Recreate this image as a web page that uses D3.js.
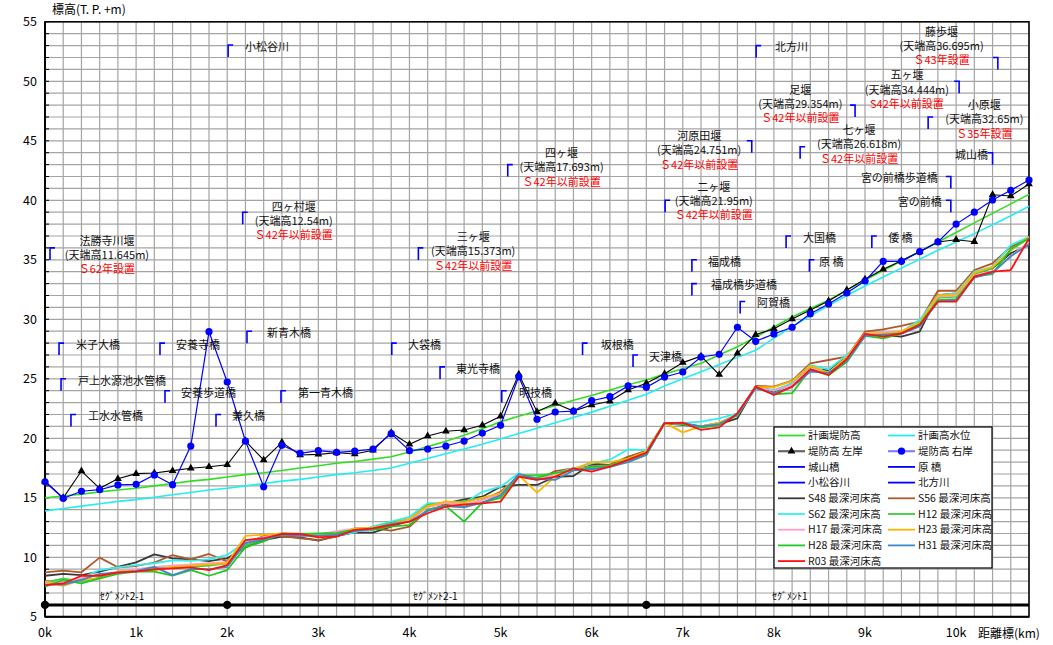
<!DOCTYPE html>
<html><head><meta charset="utf-8">
<script src="https://cdn.jsdelivr.net/npm/d3@7"></script>
<style>
html,body{margin:0;padding:0;background:#fff;}
text{font-family:"Noto Sans CJK JP","Noto Sans",sans-serif;}
</style></head>
<body><svg id="chart" width="1053" height="645"></svg>
<script>
// ---- data ----
const distKm = [0,0.2,0.4,0.6,0.8,1.0,1.2,1.4,1.6,1.8,2.0,2.2,2.4,2.6,2.8,3.0,3.2,3.4,3.6,3.8,4.0,4.2,4.4,4.6,4.8,5.0,5.2,5.4,5.6,5.8,6.0,6.2,6.4,6.6,6.8,7.0,7.2,7.4,7.6,7.8,8.0,8.2,8.4,8.6,8.8,9.0,9.2,9.4,9.6,9.8,10.0,10.2,10.4,10.6,10.8];

const planLevee = [15.0,15.15,15.3,15.5,15.65,15.8,16.0,16.2,16.4,16.55,16.75,16.95,17.1,17.3,17.5,17.7,17.9,18.05,18.25,18.45,18.85,19.3,19.75,20.25,20.8,21.4,21.85,22.3,22.75,23.2,23.6,24.05,24.5,24.9,25.4,25.85,26.3,27.0,27.7,28.5,29.35,30.2,30.9,31.6,32.45,33.3,34.1,34.9,35.7,36.5,37.3,38.1,38.9,39.7,40.5];
const planHWL = [13.9,14.1,14.3,14.5,14.7,14.85,15.05,15.25,15.45,15.65,15.8,16.0,16.2,16.4,16.55,16.75,16.95,17.1,17.3,17.5,17.9,18.3,18.7,19.1,19.5,19.94,20.4,20.85,21.3,21.75,22.2,22.7,23.2,23.7,24.4,25.0,25.6,26.2,26.8,27.4,28.4,29.4,30.3,31.15,32.0,32.8,33.55,34.3,35.05,35.8,36.5,37.2,37.95,38.7,39.5];
const leveeLeft = [16.4,15.0,17.25,15.8,16.6,17.03,17.08,17.28,17.48,17.61,17.78,19.77,18.18,19.66,18.6,18.65,18.79,18.68,19.0,20.47,19.49,20.19,20.59,20.7,21.09,21.85,25.38,22.24,22.94,22.29,22.8,23.11,24.06,24.62,25.43,26.36,26.9,25.35,27.14,28.71,29.21,30.03,30.78,31.54,32.46,33.36,34.2,34.93,35.68,36.5,36.69,36.52,40.47,40.36,41.37];
const leveeRight = [16.35,14.96,15.55,15.68,16.08,16.13,16.92,16.1,19.35,28.96,24.73,19.77,15.93,19.41,18.74,18.96,18.82,18.93,19.1,20.39,18.96,19.1,19.35,19.77,20.44,21.09,25.18,21.6,22.21,22.29,23.16,23.5,24.4,24.28,25.15,25.57,26.83,27.06,29.33,28.15,28.77,29.33,30.47,31.29,32.21,33.22,34.87,34.87,35.68,36.5,38.0,39.0,40.03,40.84,41.7];

const bedS48 = [8.45,8.6,8.5,8.8,9.2,9.57,10.25,9.91,9.82,9.68,9.91,10.84,11.45,11.73,11.68,11.4,11.79,12.1,12.07,12.57,13.13,14.31,14.54,14.87,15.09,15.93,16.08,16.08,16.77,16.83,17.84,17.76,18.45,18.87,21.26,21.12,21.0,21.2,21.68,24.34,23.92,24.62,25.8,25.74,26.86,28.68,28.68,28.54,28.96,32.04,32.18,33.86,34.29,35.55,36.24];
const bedS56 = [8.74,8.88,8.74,9.97,9.16,9.27,9.55,10.19,9.83,10.28,9.63,11.17,11.79,11.79,11.6,11.45,11.73,12.43,12.43,12.24,12.57,13.97,14.4,14.3,14.82,15.51,16.83,16.5,17.25,17.48,17.67,17.76,18.45,18.96,21.3,21.2,21.0,21.3,21.96,24.4,24.34,24.84,26.3,26.58,26.86,28.96,29.16,29.44,29.8,32.4,32.4,34.14,34.7,36.1,36.8];
const bedS62 = [7.8,7.75,8.25,8.93,9.16,9.35,9.5,9.74,9.7,9.82,10.2,11.3,11.7,11.9,11.9,11.85,11.85,12.1,12.6,13.0,13.4,14.55,14.55,14.55,15.5,15.93,17.06,16.5,17.06,17.48,17.9,18.2,19.07,19.0,21.26,21.3,21.4,21.68,22.1,24.34,24.06,24.62,26.16,25.8,27.0,28.54,28.8,28.96,29.94,32.0,32.2,34.0,34.4,36.24,36.94];
const bedH12 = [7.9,8.2,8.0,8.3,8.7,8.9,9.1,9.1,9.2,9.3,9.5,11.0,11.5,12.0,11.9,11.9,12.0,12.3,12.5,12.9,13.2,14.4,14.6,14.7,15.0,15.3,16.9,16.9,17.0,17.4,17.5,17.6,18.1,18.6,21.3,21.2,21.0,21.3,21.9,24.3,24.0,24.5,26.0,25.5,26.8,28.7,28.6,28.9,29.7,31.8,31.9,33.8,34.3,35.8,36.9];
const bedH17 = [7.8,7.9,8.3,8.5,8.8,9.0,9.2,9.3,9.4,9.5,9.6,11.2,11.7,12.0,12.0,11.9,12.2,12.4,12.5,12.8,13.1,14.2,14.6,14.4,14.8,15.3,16.9,16.6,17.0,17.4,17.6,17.7,18.2,18.8,21.3,21.2,21.0,21.3,22.0,24.3,24.0,24.5,25.9,25.5,26.8,28.8,28.9,29.0,29.7,31.9,32.0,33.7,34.0,35.3,36.5];
const bedH23 = [8.0,7.6,8.1,8.2,8.8,8.85,8.9,9.2,9.3,9.4,9.5,11.8,11.9,12.0,11.9,11.8,12.0,12.4,12.5,12.8,13.2,14.3,14.7,14.6,15.0,15.4,16.9,15.43,16.8,17.4,18.0,18.0,18.3,18.9,21.3,20.5,21.0,21.3,22.0,24.3,24.3,24.8,26.1,25.5,26.8,28.8,28.8,29.0,29.7,32.0,32.1,33.9,34.4,35.8,36.9];
const bedH28 = [7.53,8.09,7.81,8.23,8.6,8.8,8.8,8.45,8.93,8.45,8.93,10.84,11.34,12.0,11.96,12.0,12.05,12.3,12.3,12.6,12.7,14.0,14.3,13.0,14.6,15.0,16.8,16.7,17.1,17.3,17.6,17.7,18.2,18.7,21.3,21.2,20.9,21.1,22.0,24.3,23.7,23.8,25.8,25.3,26.4,28.6,28.4,28.8,29.6,31.6,31.7,33.6,33.8,35.9,36.8];
const bedH31 = [7.7,7.7,8.1,8.6,8.7,8.85,9.2,8.5,9.0,9.0,9.2,11.2,11.5,11.9,11.8,11.8,11.9,12.2,12.4,12.8,13.0,13.9,14.3,14.2,14.6,15.2,17.0,16.6,16.5,17.3,17.4,17.6,18.0,18.6,21.3,21.3,21.0,21.2,22.0,24.2,23.8,24.3,25.6,25.5,26.5,28.6,28.7,28.8,29.4,31.5,31.6,33.5,33.9,35.3,36.3];
const bedR03 = [7.67,7.8,8.45,8.45,8.74,8.79,8.99,9.07,9.16,8.93,9.35,11.45,11.6,11.96,11.96,11.68,11.75,12.3,12.43,12.71,12.99,13.7,14.25,14.45,14.54,14.67,16.77,16.5,16.77,17.48,17.2,17.61,18.18,18.79,21.26,21.31,20.7,20.92,22.1,24.34,23.64,24.34,25.8,25.32,26.66,28.77,28.54,28.82,29.52,31.48,31.48,33.58,34.0,34.14,36.8];

const bedNames = ["S48","S56","S62","H12","H17","H23","H28","H31","R03"];
const bedColors = ["#3a3a3a","#b0582a","#33f0f0","#3ccc3c","#ff9fcf","#ffb400","#22c822","#3f88c8","#ff1010"];
const bedData = [bedS48,bedS56,bedS62,bedH12,bedH17,bedH23,bedH28,bedH31,bedR03];

const xTicks = [0,1,2,3,4,5,6,7,8,9,10];
const xTickLabels = ["0k","1k","2k","3k","4k","5k","6k","7k","8k","9k","10k"];
const yTicks = [5,10,15,20,25,30,35,40,45,50,55];

const segmentKm = [0,2,6.6];
const segmentLabels = [{t:"ｾｸﾞﾒﾝﾄ2-1",km:0.6},{t:"ｾｸﾞﾒﾝﾄ2-1",km:4.04},{t:"ｾｸﾞﾒﾝﾄ1",km:7.98}];

// single-line markers: bracket at km, top elevation, side R (┌ text right) / L (┐ text left), text anchor km
const markers = [
 {t:"小松谷川",km:2.01,top:53.05,s:"R",tk:2.195},
 {t:"北方川",km:7.805,top:53.0,s:"R",tk:8.013},
 {t:"米子大橋",km:0.154,top:28.0,s:"R",tk:0.34},
 {t:"戸上水源池水管橋",km:0.176,top:25.0,s:"R",tk:0.362},
 {t:"工水水管橋",km:0.285,top:22.0,s:"R",tk:0.472},
 {t:"安養寺橋",km:1.262,top:28.0,s:"R",tk:1.438},
 {t:"安養歩道橋",km:1.317,top:24.0,s:"R",tk:1.493},
 {t:"兼久橋",km:1.877,top:22.0,s:"R",tk:2.053},
 {t:"新青木橋",km:2.217,top:29.0,s:"R",tk:2.437},
 {t:"第一青木橋",km:2.59,top:24.0,s:"R",tk:2.777},
 {t:"大袋橋",km:3.806,top:28.0,s:"R",tk:3.985},
 {t:"東光寺橋",km:4.336,top:26.0,s:"R",tk:4.511},
 {t:"明技橋",km:5.013,top:24.0,s:"R",tk:5.203},
 {t:"坂根橋",km:5.90,top:28.0,s:"R",tk:6.10},
 {t:"天津橋",km:6.454,top:27.0,s:"R",tk:6.63},
 {t:"福成橋",km:7.10,top:35.0,s:"R",tk:7.277},
 {t:"福成橋歩道橋",km:7.10,top:33.0,s:"R",tk:7.31},
 {t:"阿賀橋",km:7.63,top:31.5,s:"R",tk:7.816},
 {t:"大国橋",km:8.134,top:37.0,s:"R",tk:8.32},
 {t:"原\u00a0橋",km:8.39,top:35.0,s:"R",tk:8.496},
 {t:"倭\u00a0橋",km:9.075,top:37.0,s:"R",tk:9.254},
 {t:"城山橋",km:10.40,top:44.0,s:"L",tk:10.351},
 {t:"宮の前橋歩道橋",km:9.942,top:42.0,s:"L",tk:9.80},
 {t:"宮の前橋",km:9.942,top:40.0,s:"L",tk:9.843}
];
// weirs: bracket + three text lines centered at ck, title elevation te
const weirs = [
 {t1:"法勝寺川堰",t2:"(天端高11.645m)",t3:"Ｓ62年設置",km:0.055,top:36.0,s:"R",ck:0.68,te:36.6},
 {t1:"四ヶ村堰",t2:"(天端高12.54m)",t3:"Ｓ42年以前設置",km:2.17,top:39.0,s:"R",ck:2.73,te:39.44},
 {t1:"三ヶ堰",t2:"(天端高15.373m)",t3:"Ｓ42年以前設置",km:4.098,top:36.0,s:"R",ck:4.70,te:36.9},
 {t1:"四ヶ堰",t2:"(天端高17.693m)",t3:"Ｓ42年以前設置",km:5.079,top:43.0,s:"R",ck:5.67,te:43.95},
 {t1:"河原田堰",t2:"(天端高24.751m)",t3:"Ｓ42年以前設置",km:7.757,top:45.0,s:"L",ck:7.18,te:45.38},
 {t1:"二ヶ堰",t2:"(天端高21.95m)",t3:"Ｓ42年以前設置",km:6.806,top:40.0,s:"R",ck:7.34,te:41.12},
 {t1:"足堰",t2:"(天端高29.354m)",t3:"Ｓ42年以前設置",km:8.891,top:48.0,s:"L",ck:8.29,te:49.27},
 {t1:"七ヶ堰",t2:"(天端高26.618m)",t3:"Ｓ42年以前設置",km:8.288,top:44.5,s:"R",ck:8.935,te:45.9},
 {t1:"五ヶ堰",t2:"(天端高34.444m)",t3:"S42年以前設置",km:10.033,top:50.0,s:"L",ck:9.46,te:50.5},
 {t1:"小原堰",t2:"(天端高32.65m)",t3:"Ｓ35年設置",km:9.693,top:47.0,s:"R",ck:10.31,te:47.98},
 {t1:"藤歩堰",t2:"(天端高36.695m)",t3:"Ｓ43年設置",km:10.458,top:52.0,s:"L",ck:9.84,te:54.17}
];

// ---- drawing ----
const svg = d3.select("#chart");
const x = d3.scaleLinear().domain([0,10.8]).range([45,1029]);
const y = d3.scaleLinear().domain([5,55]).range([616.8,21.8]);

// grid
const g = svg.append("g");
g.selectAll(".vg").data(d3.range(0,55)).enter().append("line")
 .attr("x1",i=>x(i*0.2)).attr("x2",i=>x(i*0.2)).attr("y1",y(5)).attr("y2",y(55))
 .attr("stroke","#a4a4a4").attr("stroke-width",1.2);
g.selectAll(".hg").data(d3.range(5,56)).enter().append("line")
 .attr("x1",x(0)).attr("x2",x(10.8)).attr("y1",d=>y(d)).attr("y2",d=>y(d))
 .attr("stroke","#a4a4a4").attr("stroke-width",1.2);

// frame
svg.append("rect").attr("x",x(0)).attr("y",y(55)).attr("width",x(10.8)-x(0)).attr("height",y(5)-y(55))
 .attr("fill","none").attr("stroke","#000").attr("stroke-width",1.5);
svg.append("line").attr("x1",x(0)).attr("x2",x(0)).attr("y1",y(55)).attr("y2",y(5)).attr("stroke","#000").attr("stroke-width",2);
svg.append("line").attr("x1",x(0)).attr("x2",x(10.8)).attr("y1",y(5)).attr("y2",y(5)).attr("stroke","#000").attr("stroke-width",2);
// left inner ticks
svg.selectAll(".lt").data(d3.range(5,56)).enter().append("line")
 .attr("x1",x(0)).attr("x2",x(0)+4).attr("y1",d=>y(d)).attr("y2",d=>y(d)).attr("stroke","#000").attr("stroke-width",1);

// axis labels
svg.selectAll(".yl").data(yTicks).enter().append("text")
 .attr("x",37).attr("y",d=>y(d)).attr("dy","0.35em").attr("text-anchor","end")
 .attr("font-size",12.5).text(d=>d);
svg.selectAll(".xl").data(xTicks).enter().append("text")
 .attr("x",d=>x(d)).attr("y",637).attr("text-anchor","middle").attr("font-size",12.5)
 .text((d,i)=>xTickLabels[i]);
svg.append("text").attr("x",52).attr("y",14).attr("font-size",12).text("標高(T.\u00a0P.\u00a0+m)");
svg.append("text").attr("x",978).attr("y",638).attr("font-size",12).text("距離標(km)");

// segment line
svg.append("line").attr("x1",x(0)).attr("x2",x(10.8)).attr("y1",y(6)).attr("y2",y(6)).attr("stroke","#000").attr("stroke-width",3);
svg.selectAll(".sd").data(segmentKm).enter().append("circle")
 .attr("cx",d=>x(d)).attr("cy",y(6)).attr("r",4.2).attr("fill","#000");
svg.selectAll(".sl").data(segmentLabels).enter().append("text")
 .attr("x",d=>x(d.km)).attr("y",y(6)-5).attr("font-size",10).text(d=>d.t);

// lines
const line = arr => d3.line().x((d,i)=>x(distKm[i])).y(d=>y(d))(arr);

bedData.forEach((arr,k)=>{
 svg.append("path").attr("d",line(arr)).attr("fill","none")
  .attr("stroke",bedColors[k]).attr("stroke-width",1.8).attr("stroke-linejoin","round");
});
svg.append("path").attr("d",line(planHWL)).attr("fill","none").attr("stroke","#22eef0").attr("stroke-width",1.6);
svg.append("path").attr("d",line(planLevee)).attr("fill","none").attr("stroke","#33dd22").attr("stroke-width",1.6);

svg.append("path").attr("d",line(leveeLeft)).attr("fill","none").attr("stroke","#000").attr("stroke-width",1.1);
const tri = d3.symbol().type(d3.symbolTriangle).size(26);
svg.selectAll(".lm").data(leveeLeft).enter().append("path")
 .attr("d",tri).attr("transform",(d,i)=>`translate(${x(distKm[i])},${y(d)})`).attr("fill","#000");
svg.append("path").attr("d",line(leveeRight)).attr("fill","none").attr("stroke","#0000ff").attr("stroke-width",1.2);
svg.selectAll(".rm").data(leveeRight).enter().append("circle")
 .attr("cx",(d,i)=>x(distKm[i])).attr("cy",d=>y(d)).attr("r",3.6).attr("fill","#0000ff");

// brackets
function bracket(m){
 const bx = x(m.km), by = y(m.top);
 const hx = m.s==="R" ? bx+5 : bx-5;
 svg.append("path").attr("d",`M${hx},${by}H${bx}V${by+12}`).attr("fill","none")
  .attr("stroke","#0000ff").attr("stroke-width",1.6);
}
markers.forEach(m=>{
 bracket(m);
 svg.append("text").attr("x",x(m.tk)).attr("y",y(m.top)+2).attr("dy","0.35em")
  .attr("text-anchor",m.s==="R"?"start":"end").attr("font-size",11).attr("fill","#111").text(m.t);
});
weirs.forEach(w=>{
 bracket(w);
 const ty = y(w.te);
 svg.append("text").attr("x",x(w.ck)).attr("y",ty).attr("dy","0.35em").attr("text-anchor","middle").attr("font-size",11).attr("fill","#111").text(w.t1);
 svg.append("text").attr("x",x(w.ck)).attr("y",ty+14.3).attr("dy","0.35em").attr("text-anchor","middle").attr("font-size",11).attr("fill","#111").text(w.t2);
 svg.append("text").attr("x",x(w.ck)).attr("y",ty+28.6).attr("dy","0.35em").attr("text-anchor","middle").attr("font-size",11).attr("fill","#ff0000").text(w.t3);
});

// legend
const legItems = [
 {t:"計画堤防高",c:"#33dd22"},{t:"計画高水位",c:"#22eef0"},
 {t:"堤防高\u00a0左岸",c:"#666",m:"tri"},{t:"堤防高\u00a0右岸",c:"#7f7fff",m:"dot"},
 {t:"城山橋",c:"#0000ff"},{t:"原\u00a0橋",c:"#0000ff"},
 {t:"小松谷川",c:"#0000ff"},{t:"北方川",c:"#0000ff"}
].concat(bedNames.map((n,i)=>({t:n+"\u00a0最深河床高",c:bedColors[i]})));
const lg = svg.append("g");
lg.append("rect").attr("x",774).attr("y",427).attr("width",218).attr("height",141)
 .attr("fill","#fff").attr("stroke","#000").attr("stroke-width",1.2);
legItems.forEach((it,i)=>{
 const col = i%2, row = Math.floor(i/2);
 const lx = col===0 ? 778 : 888, ly = 435.5 + row*15.7;
 lg.append("line").attr("x1",lx).attr("x2",lx+27).attr("y1",ly).attr("y2",ly)
  .attr("stroke",it.c).attr("stroke-width",it.m?2.2:1.8);
 if(it.m==="tri") lg.append("path").attr("d",tri).attr("transform",`translate(${lx+13.5},${ly})`).attr("fill","#000");
 if(it.m==="dot") lg.append("circle").attr("cx",lx+13.5).attr("cy",ly).attr("r",3.6).attr("fill","#0000ff");
 lg.append("text").attr("x",lx+30).attr("y",ly).attr("dy","0.35em").attr("font-size",10.5).attr("fill","#111").text(it.t);
});
</script></body></html>
